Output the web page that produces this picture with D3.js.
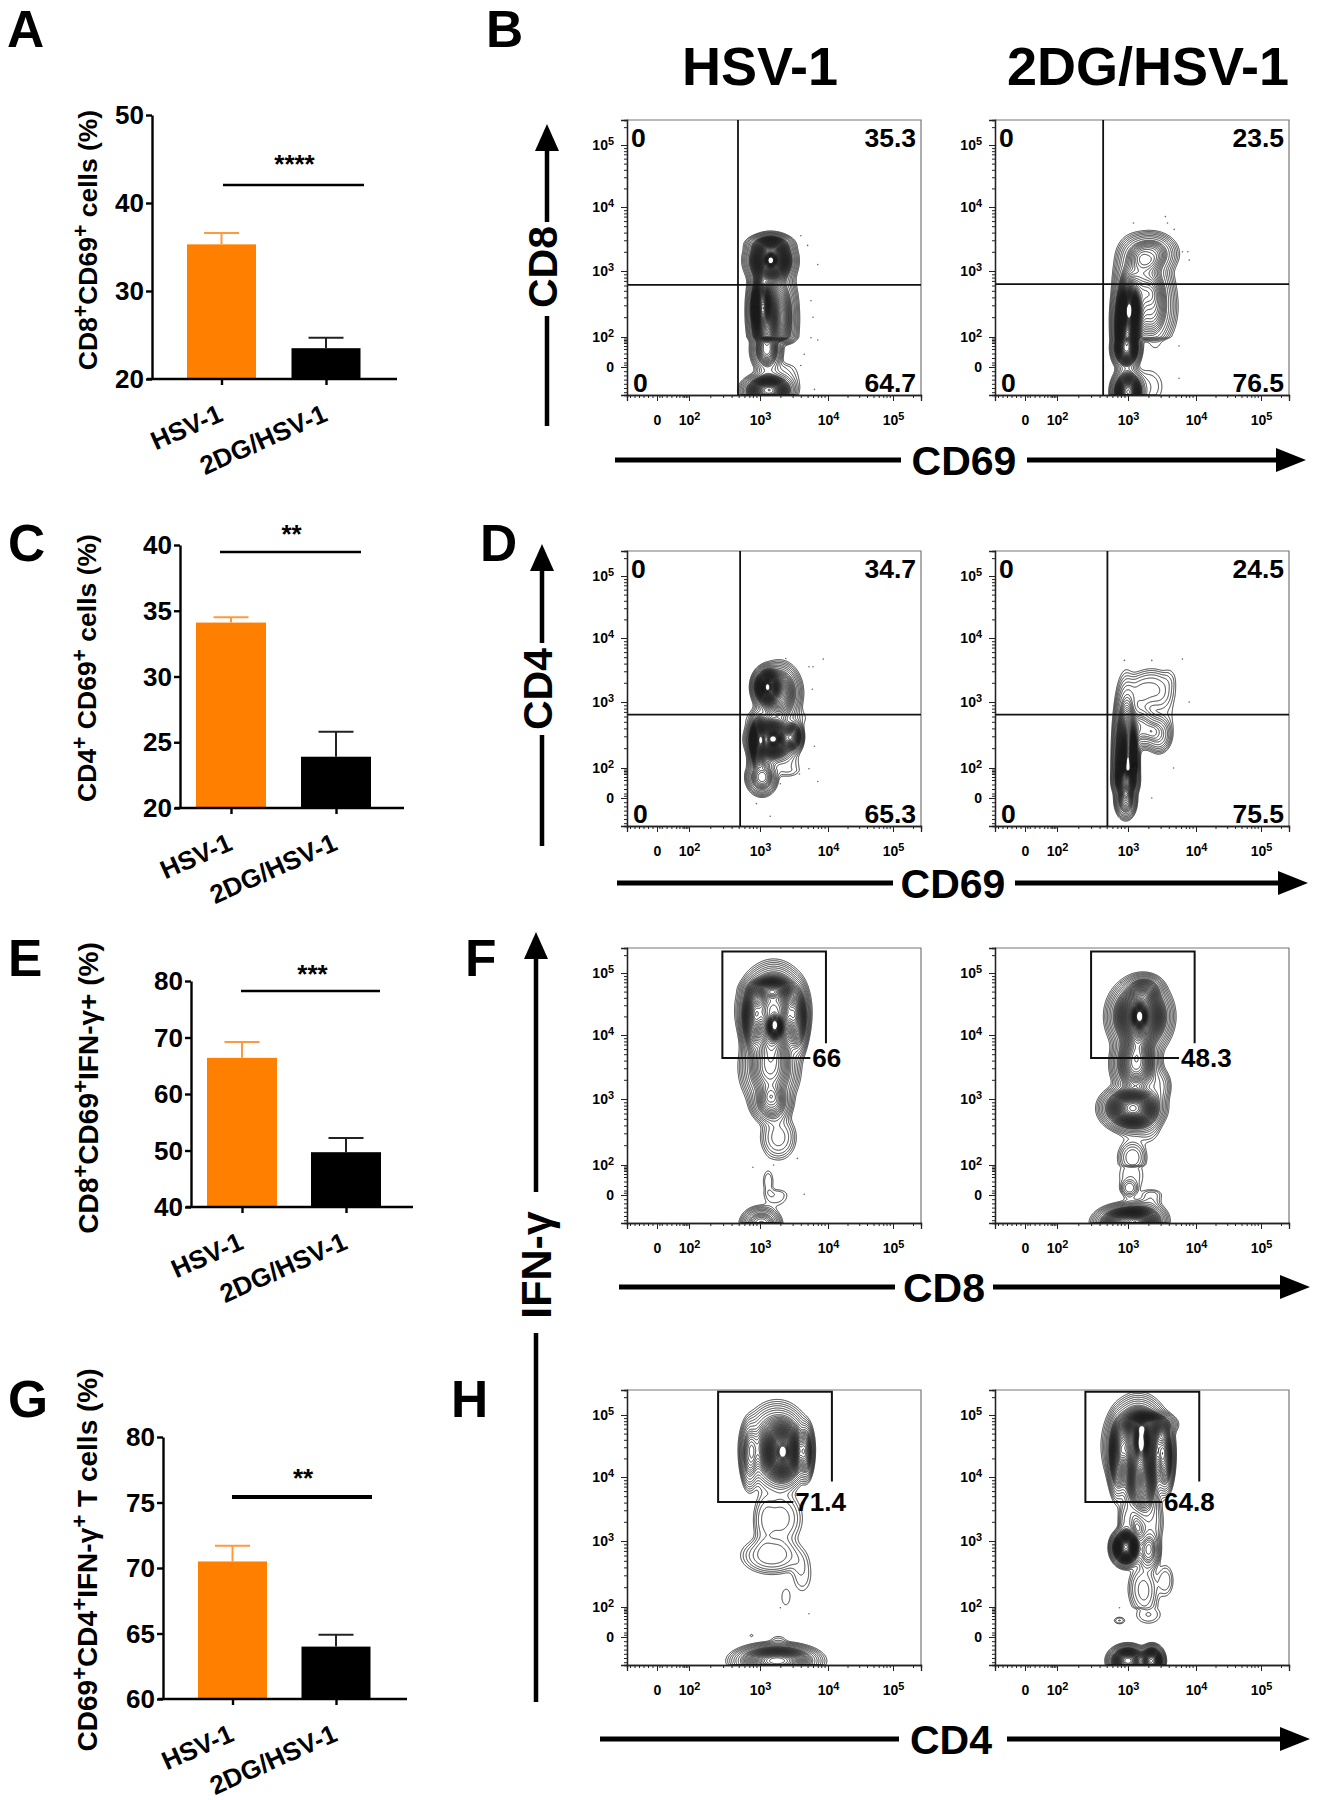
<!DOCTYPE html>
<html><head><meta charset="utf-8">
<script src="https://cdn.jsdelivr.net/npm/d3@7"></script>
<style>
html,body{margin:0;padding:0;background:#fff}
svg{display:block}
text{font-family:"Liberation Sans",Arial,sans-serif;font-weight:bold;fill:#000}
</style></head><body>
<svg id="c" width="1317" height="1800"></svg>
<script>
// ---------- bar chart data ----------
const barCategories = ["HSV-1", "2DG/HSV-1"];
const valuesA = [35.3, 23.5], errorTopA = [36.6, 24.7], ticksA = [20, 30, 40, 50];
const valuesC = [34.1, 23.9], errorTopC = [34.5, 25.8], ticksC = [20, 25, 30, 35, 40];
const valuesE = [66.4, 49.7], errorTopE = [69.2, 52.2], ticksE = [40, 50, 60, 70, 80];
const valuesG = [70.5, 64.0], errorTopG = [71.7, 64.9], ticksG = [60, 65, 70, 75, 80];
const titleA = "CD8^+CD69^+ cells (%)";
const titleC = "CD4^+ CD69^+ cells (%)";
const titleE = "CD8^+CD69^+IFN-γ+ (%)";
const titleG = "CD69^+CD4^+IFN-γ^+ T cells (%)";
const barColors = ["#ff8000", "#000000"];
const starsA = "****", starsC = "**", starsE = "***", starsG = "**";

// ---------- flow cytometry data (axis units: decades; 0 = "0", 2 = 10², 5 = 10⁵) ----------
const flowMajor = [0, 2, 3, 4, 5];
const flowMinor = [-0.9,-0.75,-0.6,-0.45,-0.3,-0.15,0.15,0.3,0.6,0.9,1.2,1.4,1.6,1.7,1.8,1.9,
  2.3,2.48,2.6,2.7,2.78,2.85,2.9,2.95,3.3,3.48,3.6,3.7,3.78,3.85,3.9,3.95,4.3,4.48,4.6,4.7,4.78,4.85,4.9,4.95,5.3];
// density components [centre x, centre y, spread x, spread y, weight]
const peaksB1 = [[3.16,3.17,.15,.16,1],[3.16,3.17,.04,.05,.35],[3.15,3.42,.15,.07,.25],
  [3.02,2.48,.06,.17,.55],[3.05,2.4,.1,.33,.55],[3.28,2.3,.11,.33,.4],[3.1,1.2,.1,.7,.4],[3.42,2.25,.09,.4,.04],[3.12,-.85,.16,.26,.8],[3.3,-.4,.16,.4,.05]];
const peaksB2 = [[3.32,3.27,.18,.15,.4],[3.05,3.0,.12,.25,.13],[3.32,2.45,.17,.28,.42],[3.25,2.85,.18,.2,.2],
  [3.02,2.43,.06,.14,.8],[3.0,2.3,.1,.3,.6],[2.98,1.3,.09,.65,.95],[3.0,-.9,.1,.35,1],[3.3,-.7,.14,.4,.05],[3.4,1.7,.09,.5,.03]];
const peaksD1 = [[3.1,3.24,.09,.13,.8],[3.1,3.24,.03,.05,.25],[3.28,3.14,.14,.2,.5],[3.18,2.44,.15,.14,1],[3.2,2.44,.05,.05,.3],[2.97,2.4,.055,.18,.6],
  [3.5,2.48,.06,.1,.45],[3.03,1.4,.1,.55,.34],[3.25,2.75,.25,.1,.05],[3.4,1.9,.12,.3,.04]];
const peaksD2 = [[3.02,2.1,.05,.26,.8],[2.97,2.2,.08,.5,.6],[2.97,1.2,.08,.6,.9],[2.97,-.1,.07,.3,.35],[3.2,2.6,.12,.14,.3],
  [3.45,2.5,.09,.13,.22],[3.35,3.2,.17,.16,.13],[3.12,3.0,.1,.2,.06],[3.62,3.4,.06,.1,.02],[3.55,2.8,.1,.2,.03]];
const peaksF1 = [[3.22,4.13,.05,.09,.5],[3.2,4.4,.2,.3,.9],[2.88,4.25,.07,.25,.35],[3.56,4.25,.07,.25,.35],[3.15,4.75,.16,.08,.35],
  [3.15,3.5,.18,.28,.42],[3.17,2.93,.13,.14,.3],[3.27,2.42,.13,.17,.1],[3.12,.9,.05,.5,.035],[3.24,0,.11,.25,.035],[3.02,-1.05,.13,.28,.3]];
const peaksF2 = [[3.17,4.3,.05,.09,.5],[3.18,4.3,.19,.25,1],[3.25,4.75,.12,.1,.25],[3.12,3.55,.15,.22,.6],[3.07,2.86,.19,.15,1],
  [3.45,3.2,.09,.14,.12],[3.07,2.12,.1,.11,.1],[3.05,1.3,.12,.8,.04],[3.02,.45,.06,.28,.1],[3.35,.0,.09,.22,.05],[3.3,2.6,.1,.15,.05],[3.0,-1,.2,.28,.9],[3.25,-.9,.15,.3,.3]];
const peaksH1 = [[3.34,4.4,.14,.22,1],[3.34,4.4,.04,.07,.2],[3.25,4.5,.21,.3,.5],[2.85,4.35,.06,.25,.3],[3.68,4.4,.05,.2,.4],[3.3,3.35,.17,.22,.1],[3.05,3.3,.08,.25,.05],
  [3.18,2.78,.22,.14,.14],[3.62,2.5,.09,.18,.045],[3.38,2.15,.06,.12,.03],[2.88,.1,.02,.08,.03],[3.25,-.85,.27,.26,.9],[3.27,-.1,.07,.13,.03]];
const peaksH2 = [[3.2,4.58,.05,.14,.4],[3.15,4.5,.19,.32,1],[3.3,4.85,.17,.09,.5],[2.85,4.3,.06,.3,.3],[3.55,4.3,.06,.25,.4],[3.2,3.9,.11,.25,.45],[2.97,2.9,.09,.12,1.1],
  [3.3,2.85,.08,.14,.25],[3.35,3.3,.09,.22,.08],[2.98,3.3,.06,.18,.1],[3.22,2.28,.11,.19,.1],[2.88,1.1,.05,.15,.04],
  [3.3,1.5,.12,.4,.04],[3.55,2.4,.07,.14,.05],[3.0,-.85,.12,.24,.8],[3.35,-.85,.08,.24,.8]];
const dotsB1 = [[3.6,3.55],[3.7,3.4],[3.85,3.1],[3.75,2.55],[3.78,2.3],[3.75,1.95],[3.85,1.8],[3.65,.85],[3.6,.1],[3.8,-.8]];
const dotsB2 = [[3.08,3.75],[3.55,3.85],[3.58,3.75],[3.68,3.65],[3.8,3.3],[3.88,3.3],[3.9,3.17],[3.75,1.4],[3.75,-.4]];
const dotsD1 = [[3.38,3.68],[3.93,3.67],[3.72,3.55],[3.78,3.55],[3.77,3.2],[3.8,2.33],[3.72,1.95],[3.58,1.6],[3.85,1.1],[3.3,.95],[2.95,-.2],[3.15,-.65]];
const dotsD2 = [[2.95,3.65],[3.35,3.65],[3.8,3.67],[3.9,3.0],[3.67,2.0],[3.35,.0],[3.05,-.7]];
const dotsF1 = [[3.55,2.1],[2.9,1.85],[3.2,2.0],[3.65,.05]];
const dotsF2 = [[2.9,4.85]];
const dotsH1 = [[3.3,1.95],[3.72,1.55]];
const dotsH2 = [[2.88,1.95]];
const quadB1 = [2.69, 2.79], quadB2 = [2.65, 2.8], quadD1 = [2.72, 2.81], quadD2 = [2.71, 2.81];
const quadPctB1 = ["0","35.3","0","64.7"], quadPctB2 = ["0","23.5","0","76.5"];
const quadPctD1 = ["0","34.7","0","65.3"], quadPctD2 = ["0","24.5","0","75.5"];
// gate: [left, right, top, bottom, right side stop y, bottom side stop x]
const gateF1 = [2.47,3.97,5.36,3.64,3.87,3.74], gateF2 = [2.48,3.98,5.36,3.64,3.87,3.75];
const gateH1 = [2.41,4.06,5.39,3.61,3.93,3.49], gateH2 = [2.4,4.05,5.39,3.61,3.93,3.5];
const gatePct = ["66","48.3","71.4","64.8"];

// ---------- helpers ----------
const svg = d3.select("#c");
function rich(sel, str, size, ratio) {
  sel.text(null);
  let pending = 0;
  str.split(/(\^.)/).filter(s => s).forEach(p => {
    if (p[0] === "^") {
      sel.append("tspan").attr("dy", -.34 * size).attr("font-size", (ratio || .8) * size).text(p[1]);
      pending = .34 * size;
    } else {
      const t = sel.append("tspan").text(p);
      if (pending) { t.attr("dy", pending); pending = 0; }
    }
  });
}
function label(x, y, str, size, anchor, rot) {
  const t = svg.append("text").attr("font-size", size).attr("text-anchor", anchor || "start")
    .attr("transform", `translate(${x},${y})` + (rot ? ` rotate(${rot})` : ""));
  if (str.includes("^")) rich(t, str, size); else t.text(str);
  return t;
}
// ---------- bar panels ----------
function barPanel(o) {
  const y = d3.scaleLinear().domain(o.domain).range([o.y0, o.y1]);
  const x = d3.scalePoint().domain(barCategories).range([o.cx[0], o.cx[1]]);
  const g = svg.append("g");
  g.selectAll("rect").data(o.values).join("rect")
    .attr("x", (d, i) => x(barCategories[i]) - o.bw / 2).attr("width", o.bw)
    .attr("y", d => y(d)).attr("height", d => y(o.domain[0]) - y(d))
    .attr("fill", (d, i) => barColors[i]);
  o.errs.forEach((e, i) => {
    const c = x(barCategories[i]), col = i ? "#222" : "#ff9a3c";
    g.append("line").attr("x1", c).attr("x2", c).attr("y1", y(o.values[i])).attr("y2", y(e)).attr("stroke", col).attr("stroke-width", 2);
    g.append("line").attr("x1", c - 17.5).attr("x2", c + 17.5).attr("y1", y(e)).attr("y2", y(e)).attr("stroke", col).attr("stroke-width", 2);
  });
  const ay = svg.append("g").attr("transform", `translate(${o.ax},0)`)
    .call(d3.axisLeft(y).tickValues(o.ticks).tickSize(6).tickSizeOuter(0).tickPadding(2));
  ay.selectAll("path,line").attr("stroke", "#000").attr("stroke-width", 2.4);
  ay.selectAll("text").attr("font-size", 26).attr("font-family", '"Liberation Sans"').attr("font-weight", "bold").attr("dy", "0.33em");
  const ax = svg.append("g").attr("transform", `translate(0,${o.y0})`)
    .call(d3.axisBottom(x).tickSize(6).tickSizeOuter(0).tickFormat(""));
  ax.select("path").remove();
  ax.selectAll("text").remove();
  ax.selectAll("line").attr("stroke", "#000").attr("stroke-width", 2.4);
  svg.append("line").attr("x1", o.ax - 5).attr("x2", o.xEnd).attr("y1", o.y0).attr("y2", o.y0).attr("stroke", "#000").attr("stroke-width", 2.6);
  barCategories.forEach(c => {
    label(x(c) + 3, o.y0 + 41, c, 26, "end", -24);
  });
  label(o.tx, o.tyc, o.title, o.tsize, "middle", -90);
  svg.append("line").attr("x1", o.sig[0]).attr("x2", o.sig[1]).attr("y1", o.sig[2]).attr("y2", o.sig[2]).attr("stroke", "#000").attr("stroke-width", o.sig[3] || 2.4);
  label((o.sig[0] + o.sig[1]) / 2 + (o.stardx||0), o.sig[2] - o.stardy, o.stars, 26, "middle");
}
barPanel({domain:[20,50],values:valuesA,errs:errorTopA,ticks:ticksA,y0:379,y1:115,ax:152,cx:[221.5,326],bw:69,xEnd:397,title:titleA,tx:97,tyc:240,tsize:26.5,sig:[223,364,185],stars:starsA,stardy:12,stardx:1});
barPanel({domain:[20,40],values:valuesC,errs:errorTopC,ticks:ticksC,y0:808,y1:545,ax:180,cx:[231,336],bw:70,xEnd:404,title:titleC,tx:96,tyc:668,tsize:26.5,sig:[220,361,552],stars:starsC,stardy:9,stardx:1});
barPanel({domain:[40,80],values:valuesE,errs:errorTopE,ticks:ticksE,y0:1207,y1:981,ax:191,cx:[242,346],bw:70,xEnd:413,title:titleE,tx:98,tyc:1088,tsize:28,sig:[241,380,991],stars:starsE,stardy:8,stardx:2});
barPanel({domain:[60,80],values:valuesG,errs:errorTopG,ticks:ticksG,y0:1699,y1:1437,ax:163,cx:[232.5,336],bw:69,xEnd:407,title:titleG,tx:97,tyc:1560,tsize:28,sig:[232,372,1497,4],stars:starsG,stardy:10,stardx:1});

// ---------- flow panels ----------
const relX = [0, 30, 62, 133, 201, 266, 294], relY = [275, 247, 217, 151, 87, 25, 0];
const dom = [-1, 0, 2, 3, 4, 5, 5.42];
function flowLevels(n, top) {
  const lv = [.014,.02,.028,.038,.052,.068,.09,.115];
  for (let i = 1; i <= n; i++) lv.push(.115 + (top - .115) * i / n);
  return lv;
}
function flowPanel(o) {
  const x = d3.scaleLinear().domain(dom).range(relX.map(v => o.left + v));
  const y = d3.scaleLinear().domain(dom).range(relY.map(v => o.top + v));
  const W = 294, H = 275, grid = new Float64Array(W * H);
  let max = 0;
  for (let j = 0; j < H; j++) for (let i = 0; i < W; i++) {
    const a = x.invert(o.left + i + .5), b = y.invert(o.top + j + .5);
    let s = 0;
    for (const p of o.peaks) {
      const dx = (a - p[0]) / p[2], dy = (b - p[1]) / p[3];
      s += p[4] * Math.exp(-.5 * Math.pow((dx * dx + dy * dy) / 1.6, 1.3));
    }
    grid[i + j * W] = s;
    if (s > max) max = s;
  }
  const cs = d3.contours().size([W, H]).thresholds(flowLevels(o.n, o.topLevel || .93).map(v => v * max))(grid);
  const g = svg.append("g").attr("transform", `translate(${o.left},${o.top})`);
  g.selectAll("path").data(cs).join("path").attr("d", d3.geoPath()).attr("fill", "none")
    .attr("stroke", "#1a1a1a").attr("stroke-width", .85);
  svg.append("g").selectAll("circle").data(o.dots).join("circle")
    .attr("cx", d => x(d[0])).attr("cy", d => y(d[1])).attr("r", .8).attr("fill", "#666");
  // frame
  svg.append("path").attr("d", `M${o.left},${o.top}H${o.left + W}V${o.top + H}`).attr("fill", "none").attr("stroke", "#777").attr("stroke-width", 1.2);
  // axes
  const ax = svg.append("g").attr("transform", `translate(0,${o.top + H})`)
    .call(d3.axisBottom(x).tickValues(flowMajor).tickSize(6).tickPadding(14));
  const ax2 = svg.append("g").attr("transform", `translate(0,${o.top + H})`)
    .call(d3.axisBottom(x).tickValues(flowMinor).tickSize(3));
  const ay = svg.append("g").attr("transform", `translate(${o.left},0)`)
    .call(d3.axisLeft(y).tickValues(flowMajor).tickSize(6).tickPadding(7));
  const ay2 = svg.append("g").attr("transform", `translate(${o.left},0)`)
    .call(d3.axisLeft(y).tickValues(flowMinor).tickSize(3));
  ax2.selectAll("text").remove(); ay2.selectAll("text").remove();
  [ax, ax2, ay, ay2].forEach(a => {
    a.selectAll("path").attr("stroke", "#222").attr("stroke-width", 1.3);
    a.selectAll("line").attr("stroke", "#222").attr("stroke-width", 1);
  });
  [ax, ay].forEach(a => a.selectAll("text").each(function (d) {
    const t = d3.select(this).attr("font-size", 14).attr("font-family", '"Liberation Sans"').attr("font-weight", "bold");
    rich(t, d === 0 ? "0" : "10^" + d, 14, .78);
    if (a === ay) t.attr("dy", "0.3em");
  }));
  // gates and labels
  if (o.quad) {
    svg.append("line").attr("x1", x(o.quad[0])).attr("x2", x(o.quad[0])).attr("y1", o.top).attr("y2", o.top + H).attr("stroke", "#111").attr("stroke-width", 1.8);
    svg.append("line").attr("x1", o.left + 1).attr("x2", o.left + W).attr("y1", y(o.quad[1])).attr("y2", y(o.quad[1])).attr("stroke", "#111").attr("stroke-width", 1.8);
    const r = o.left + W - 5;
    label(o.left + 4, o.top + 27, o.pct[0], 26.5);
    label(r, o.top + 27, o.pct[1], 26.5, "end");
    label(o.left + 6, o.top + H - 3, o.pct[2], 26.5);
    label(r, o.top + H - 3, o.pct[3], 26.5, "end");
  }
  if (o.gate) {
    const q = o.gate;
    svg.append("path").attr("d", `M${x(q[5])},${y(q[3])}H${x(q[0])}V${y(q[2])}H${x(q[1])}V${y(q[4])}`)
      .attr("fill", "none").attr("stroke", "#111").attr("stroke-width", 2);
    label(x(q[5]) + 2, y(q[3]) + 9, o.gateLabel, 26);
  }
}
const colL = 627, colR = 995;
flowPanel({left:colL,top:120,peaks:peaksB1,dots:dotsB1,n:56,quad:quadB1,pct:quadPctB1});
flowPanel({left:colR,top:120,peaks:peaksB2,dots:dotsB2,n:60,quad:quadB2,pct:quadPctB2});
flowPanel({left:colL,top:551,peaks:peaksD1,dots:dotsD1,n:46,quad:quadD1,pct:quadPctD1});
flowPanel({left:colR,top:551,peaks:peaksD2,dots:dotsD2,n:50,quad:quadD2,pct:quadPctD2});
flowPanel({left:colL,top:948,peaks:peaksF1,dots:dotsF1,n:44,gate:gateF1,gateLabel:gatePct[0]});
flowPanel({left:colR,top:948,peaks:peaksF2,dots:dotsF2,n:50,gate:gateF2,gateLabel:gatePct[1]});
flowPanel({left:colL,top:1390,peaks:peaksH1,dots:dotsH1,n:44,gate:gateH1,gateLabel:gatePct[2]});
flowPanel({left:colR,top:1390,peaks:peaksH2,dots:dotsH2,n:50,gate:gateH2,gateLabel:gatePct[3]});

// ---------- arrows and headings ----------
function hArrow(y, x0, tip, gapA, gapB) {
  svg.append("path").attr("d", `M${x0},${y}H${gapA}M${gapB},${y}H${tip - 28}`).attr("stroke", "#000").attr("stroke-width", 5).attr("fill", "none");
  svg.append("path").attr("d", `M${tip},${y}L${tip - 30},${y - 12}V${y + 12}Z`).attr("fill", "#000");
}
function vArrow(x, y0, tip, gapA, gapB) {
  svg.append("path").attr("d", `M${x},${y0}V${gapA}M${x},${gapB}V${tip + 24}`).attr("stroke", "#000").attr("stroke-width", 4.5).attr("fill", "none");
  svg.append("path").attr("d", `M${x},${tip}L${x - 12},${tip + 27}H${x + 12}Z`).attr("fill", "#000");
}
hArrow(460, 615, 1306, 901, 1027); label(964, 475, "CD69", 41, "middle");
hArrow(883, 617, 1308, 893, 1015); label(953, 898, "CD69", 41, "middle");
hArrow(1287, 619, 1310, 895, 993); label(944, 1302, "CD8", 41, "middle");
hArrow(1739, 600, 1310, 899, 1007); label(951, 1754, "CD4", 41, "middle");
vArrow(547, 426, 124, 316, 222); label(557, 267, "CD8", 41, "middle", -90);
vArrow(542, 846, 544, 735, 643); label(552, 689, "CD4", 41, "middle", -90);
vArrow(536, 1702, 932, 1333, 1192); label(551, 1265, "IFN-γ", 43, "middle", -90);
label(682, 85, "HSV-1", 54); label(1007, 85, "2DG/HSV-1", 54);
[["A",7,47],["B",486,47],["C",8,561],["D",480,561],["E",8,976],["F",465,976],["G",8,1417],["H",451,1417]]
  .forEach(d => label(d[1], d[2], d[0], 51.5));
</script>
</body></html>
